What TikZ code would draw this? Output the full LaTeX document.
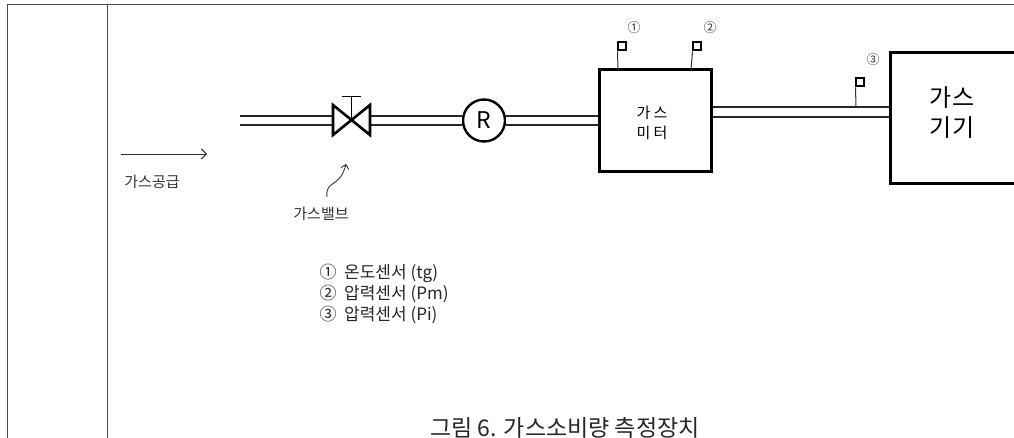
\documentclass[tikz,border=0pt]{standalone}
\usepackage{fontspec}
\setmainfont{Noto Sans CJK KR}
\usetikzlibrary{arrows.meta}
\tikzset{
  pipe/.style={draw=black!85, line width=1.3pt, double=white, double distance=7.6pt},
  frame/.style={draw=black!70, line width=1pt},
  sensorbox/.style={draw, line width=2pt, minimum size=8pt, inner sep=0pt},
  stem/.style={draw=black!80, line width=1pt},
  lbl/.style={font=\fontsize{15}{17}\selectfont, text=black!80},
  legend/.style={anchor=west, font=\fontsize{17}{17}\selectfont, text=black!85},
  num/.style={font=\fontsize{13}{13}\selectfont, text=black!80},
}
\begin{document}
\begin{tikzpicture}[x=1pt,y=-1pt]
\useasboundingbox (0,0) rectangle (1014,438);
% table frame
\draw[frame] (7,438) -- (7,5) -- (1016,5);
\draw[frame] (107,5) -- (107,438);
% gas supply arrow
\coordinate (sA) at (121,154);
\coordinate (sB) at (207,154);
\draw[black!80, line width=0.9pt, -{Straight Barb[length=5pt,width=10pt]}] (sA) -- (sB);
\node[lbl] (supply) at (152,182) {가스공급};
% pipe start
\coordinate (p0) at (240,120.5);
% valve
\coordinate (valve) at (351.5,120.5);
\coordinate (vL) at (333,120.5);
\coordinate (vR) at (370,120.5);
% regulator
\node[draw, circle, line width=2.4pt, minimum size=42pt, inner sep=0pt,
      font=\fontsize{23}{23}\selectfont] (reg) at (484,120.5) {R};
% gas meter
\node[draw, line width=3pt, minimum width=112pt, minimum height=102pt, inner sep=0pt] (meter) at (655,121) {};
\node[font=\fontsize{15}{20}\selectfont, align=center] (metertext) at (652,123) {가 스\\미 터};
% gas appliance
\node[draw, line width=3.4pt, anchor=north west, minimum width=200pt, minimum height=131pt,
      inner sep=0pt] (app) at (889,51) {};
\node[font=\fontsize{24}{30}\selectfont, align=center] (apptext) at (952,113) {가스\\기기};
% pipes
\draw[pipe] (p0) -- (vL);
\draw[pipe] (vR) -- (reg.west);
\draw[pipe] (reg.east) -- (reg.east -| meter.west);
\draw[pipe, double distance=8.6pt] (meter.east |- 0,112) -- (app.west |- 0,112);
% valve body
\draw[line width=2.6pt, line join=miter] (333,105) -- (370,135) -- (370,105) -- (333,135) -- cycle;
\draw[line width=1pt] (valve) -- (351.5,97);
\draw[line width=1pt] (342,97) -- (361,97);
% valve label and curved arrow
\node[lbl] (vlabel) at (321,214) {가스밸브};
\coordinate (cT) at (327,197);
\coordinate (cH) at (346,164);
\draw[black!80, line width=0.9pt, -{Straight Barb[length=4pt,width=8pt]}]
  (cT) .. controls (325,180) and (340,188) .. (cH);
% sensors
\node[sensorbox] (s1) at (622,46.5) {};
\node[sensorbox] (s2) at (697,46.5) {};
\node[sensorbox] (s3) at (860,82.5) {};
\draw[stem] (s1.south west) ++(0.5,0) -- (618,70);
\draw[stem] (s2.south west) ++(0.5,0) -- (691,70);
\draw[stem] (s3.south west) ++(0.5,0) -- (856,107.5);
\node[num] (n1) at (634,28) {①};
\node[num] (n2) at (710,28) {②};
\node[num] (n3) at (873,60) {③};
% legend
\node[legend] (l1) at (316,273) {①\ \ 온도센서 (tg)};
\node[legend] (l2) at (316,294) {②\ \ 압력센서 (Pm)};
\node[legend] (l3) at (316,315) {③\ \ 압력센서 (Pi)};
% caption
\node[font=\fontsize{23}{23}\selectfont, text=black!85] (cap) at (565,428) {그림 6. 가스소비량 측정장치};
\end{tikzpicture}
\end{document}
